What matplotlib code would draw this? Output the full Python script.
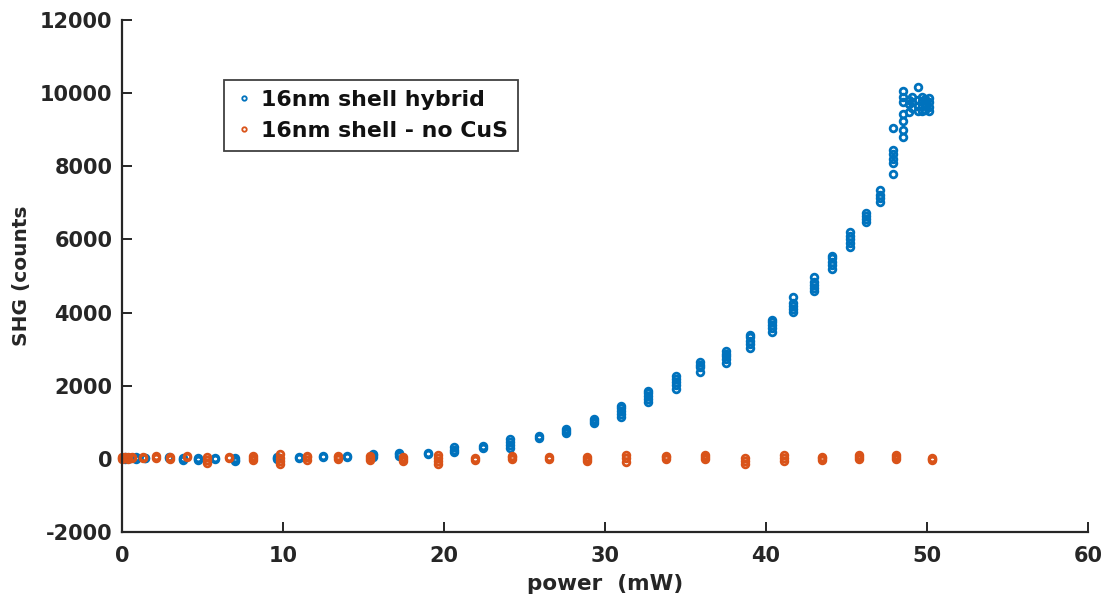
import matplotlib
matplotlib.use("Agg")
import matplotlib.pyplot as plt
import numpy as np

# ---- data ----
hybrid_power = [0.2, 0.5, 0.9, 1.4, 2.9, 3.8, 4.75, 5.8, 7.0, 9.6, 11.0, 12.5, 14.0,
                15.6, 17.2, 19.0, 20.6, 22.4, 24.1, 25.9, 27.6, 29.3, 31.0, 32.7,
                34.4, 35.9, 37.5, 39.0, 40.4, 41.7, 43.0, 44.1, 45.2, 46.2, 47.1,
                47.9, 48.5, 48.9, 49.1, 49.46, 49.7, 49.9, 50.1]
hybrid_shg = [
    [0, 20, 40], [10, 30], [-10, 20, 40], [10, 30], [30, 60], [-40, 0, 20],
    [-40, -10, 20], [0, 30], [-60, -20, 20], [0, 20, 40], [20, 50], [50, 80],
    [40, 70], [60, 100, 140], [90, 130, 160], [140, 170], [180, 250, 320],
    [300, 340], [300, 380, 450, 530], [560, 620], [700, 770, 820],
    [980, 1040, 1090], [1150, 1230, 1300, 1380, 1440],
    [1550, 1640, 1720, 1800, 1850], [1920, 2020, 2100, 2180, 2260],
    [2380, 2500, 2570, 2640], [2620, 2720, 2800, 2880, 2940],
    [3030, 3130, 3230, 3320, 3400], [3480, 3580, 3660, 3740, 3790],
    [4020, 4100, 4170, 4250, 4420], [4580, 4680, 4760, 4840, 4980],
    [5180, 5290, 5390, 5480, 5560], [5800, 5900, 6000, 6100, 6200],
    [6470, 6560, 6640, 6720], [7020, 7120, 7220, 7340],
    [7790, 8080, 8200, 8330, 8450, 9040],
    [8790, 8980, 9250, 9430, 9750, 9890, 10070],
    [9480, 9700, 9800], [9600, 9750, 9900], [9520, 9650, 9800, 10160],
    [9500, 9650, 9780, 9900], [9550, 9700, 9850], [9500, 9620, 9750, 9880]]

nocus_power = [0.0, 0.2, 0.4, 0.6, 1.3, 2.1, 3.0, 4.05, 5.25, 6.65, 8.15, 9.8,
               11.5, 13.4, 15.4, 17.45, 19.65, 21.9, 24.2, 26.5, 28.9, 31.3,
               33.8, 36.2, 38.7, 41.1, 43.5, 45.8, 48.1, 50.3]
nocus_shg = [
    [0, 30, 60], [10, 40], [0, 40], [20, 50], [20, 50], [30, 80], [0, 40],
    [40, 90], [-100, -20, 40], [20, 60], [-30, 30, 70], [-150, -60, 30, 120],
    [-20, 40, 90], [0, 40, 80], [-30, 30, 70], [-60, 0, 60], [-150, -60, 30, 100],
    [-30, 20], [0, 40, 90], [0, 40], [-60, 0, 40], [-80, 20, 110],
    [0, 40, 80], [0, 50, 100], [-140, -60, 20], [-60, 30, 110], [-30, 20, 60],
    [0, 60, 110], [0, 50, 100], [-40, 0, 30]]

x_ticks = [0, 10, 20, 30, 40, 50, 60]
y_ticks = [-2000, 0, 2000, 4000, 6000, 8000, 10000, 12000]
labels = ["16nm shell hybrid", "16nm shell - no CuS"]
colors = ["#0072BD", "#D95319"]

def flatten(powers, vals):
    xs, ys = [], []
    for p, v in zip(powers, vals):
        for yv in v:
            xs.append(p)
            ys.append(yv)
    return np.array(xs), np.array(ys)

plt.rcParams['font.family'] = ['DejaVu Sans']
plt.rcParams['font.weight'] = 'bold'

fig = plt.figure(figsize=(11.07, 6.02), dpi=100)
ax = fig.add_axes([0.1102, 0.1163, 0.8726, 0.8505])

hx, hy = flatten(hybrid_power, hybrid_shg)
nx, ny = flatten(nocus_power, nocus_shg)
ax.plot(hx, hy, linestyle='none', marker='o', markersize=4.8, mfc='none',
        mec=colors[0], mew=2.0, label=labels[0], clip_on=False)
ax.plot(nx, ny, linestyle='none', marker='o', markersize=4.8, mfc='none',
        mec=colors[1], mew=2.0, label=labels[1], clip_on=False)

ax.set_xlim(0, 60)
ax.set_ylim(-2000, 12000)
ax.set_xticks(x_ticks)
ax.set_yticks(y_ticks)
ax.set_xticklabels([str(t) for t in x_ticks])
ax.set_yticklabels([str(t) for t in y_ticks])

for s in ['top', 'right']:
    ax.spines[s].set_visible(False)
for s in ['left', 'bottom']:
    ax.spines[s].set_linewidth(1.6)
    ax.spines[s].set_color('#262626')
ax.tick_params(direction='in', length=7, width=1.4, colors='#262626',
               labelsize=15)
ax.tick_params(axis='x', pad=10)
ax.tick_params(axis='y', pad=7)
for lab in ax.get_xticklabels() + ax.get_yticklabels():
    lab.set_fontweight('bold')

ax.set_xlabel("power  (mW)", fontsize=15.5, fontweight='bold', color='#262626',
              labelpad=6)
ax.set_ylabel("SHG (counts", fontsize=14.5, fontweight='bold', color='#262626',
              labelpad=6)

leg = ax.legend(loc='upper left', bbox_to_anchor=(0.1056, 0.8828),
                borderaxespad=0, frameon=True, fancybox=False, shadow=False,
                prop={'size': 15.8, 'weight': 'bold'}, handlelength=0.9,
                handletextpad=0.35, borderpad=0.45, labelspacing=0.5)
leg.get_frame().set_edgecolor('#111111')
leg.get_frame().set_linewidth(1.3)
for h in leg.legend_handles:
    h.set_markersize(3.2)
    h.set_markeredgewidth(1.3)
for t in leg.get_texts():
    t.set_color('#111111')

fig.savefig("out.png", dpi=100)
